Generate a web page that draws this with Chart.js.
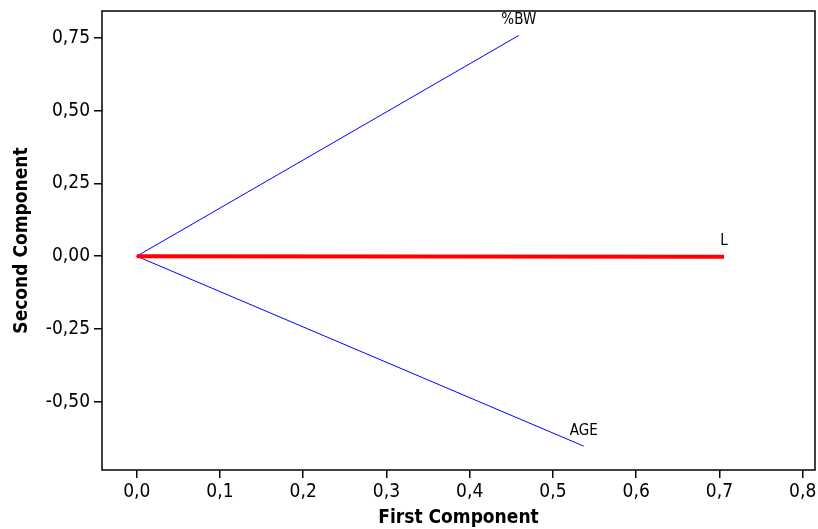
<!DOCTYPE html>
<html>
<head>
<meta charset="utf-8">
<script src="https://cdn.jsdelivr.net/npm/chart.js@4"></script>
<style>
  html, body { margin: 0; padding: 0; background: #fff; }
  #wrap { width: 818px; height: 529px; }
</style>
</head>
<body>
<div id="wrap"><canvas id="myChart" width="818" height="529"></canvas></div>
<script>
// loading plot data: variable names and their loadings on the two components
const variables = ['%BW', 'L', 'AGE'];
const firstComp = [0.459, 0.7055, 0.537];
const secondComp = [0.759, -0.002, -0.653];
const lineColors = ['#0000ff', '#ff0000', '#0000ff'];
const lineWidths = [1, 4, 1];

const xTicks = [0, 0.1, 0.2, 0.3, 0.4, 0.5, 0.6, 0.7, 0.8];
const yTicks = [-0.5, -0.25, 0, 0.25, 0.5, 0.75];

const fontName = '"DejaVu Sans Condensed", "DejaVu Sans", sans-serif';

// each variable is a line from the origin to its loading
const datasets = variables.map((name, i) => ({
  label: name,
  data: [{x: 0, y: 0}, {x: firstComp[i], y: secondComp[i]}],
  showLine: true,
  borderColor: lineColors[i],
  borderWidth: lineWidths[i],
  pointRadius: 0,
  order: i == 1 ? 0 : 1
}));

// frame around the plot area + the variable labels at line ends
const framePlugin = {
  id: 'frame',
  afterDatasetsDraw(chart) {
    const ctx = chart.ctx;
    const a = chart.chartArea;
    const xs = chart.scales.x, ys = chart.scales.y;
    ctx.save();
    ctx.strokeStyle = '#000';
    ctx.lineWidth = 1.5;
    ctx.strokeRect(a.left, a.top, a.right - a.left, a.bottom - a.top);
    ctx.fillStyle = '#000';
    ctx.font = '15px ' + fontName;
    ctx.textAlign = 'center';
    ctx.textBaseline = 'bottom';
    variables.forEach((name, i) => {
      const px = xs.getPixelForValue(firstComp[i]);
      const py = ys.getPixelForValue(secondComp[i]);
      ctx.fillText(name, px, py - 8);
    });
    ctx.restore();
  }
};

const fmt = (v, d) => v.toFixed(d).replace('.', ',');

new Chart('myChart', {
  type: 'scatter',
  data: { datasets: datasets },
  options: {
    responsive: false,
    animation: false,
    layout: { padding: { left: 0, top: 11, right: 3, bottom: 0 } },
    plugins: { legend: { display: false }, tooltip: { enabled: false } },
    scales: {
      x: {
        type: 'linear',
        min: -0.0417,
        max: 0.8148,
        afterBuildTicks: s => { s.ticks = xTicks.map(v => ({value: v})); },
        afterFit: s => { s.height = 59; s.paddingLeft = 0; s.paddingRight = 0; },
        grid: { drawOnChartArea: false, color: '#000', tickLength: 8, lineWidth: 1.5 },
        border: { display: false },
        ticks: { color: '#000', font: { family: fontName, size: 19 }, padding: 3,
          callback: v => fmt(v, 1), maxRotation: 0, autoSkip: false },
        title: { display: true, text: 'First Component', color: '#000',
          font: { family: fontName, size: 19, weight: 'bold' }, padding: { top: 0, bottom: 0 } }
      },
      y: {
        type: 'linear',
        min: -0.735,
        max: 0.843,
        afterBuildTicks: s => { s.ticks = yTicks.map(v => ({value: v})); },
        afterFit: s => { s.width = 102; s.paddingTop = 0; s.paddingBottom = 0; },
        grid: { drawOnChartArea: false, color: '#000', tickLength: 8, lineWidth: 1.5 },
        border: { display: false },
        ticks: { color: '#000', font: { family: fontName, size: 19 }, padding: 4,
          callback: v => fmt(v, 2), autoSkip: false },
        title: { display: true, text: 'Second Component', color: '#000',
          font: { family: fontName, size: 19, weight: 'bold' }, padding: { top: 11, bottom: 0 } }
      }
    }
  },
  plugins: [framePlugin]
});
</script>
</body>
</html>
